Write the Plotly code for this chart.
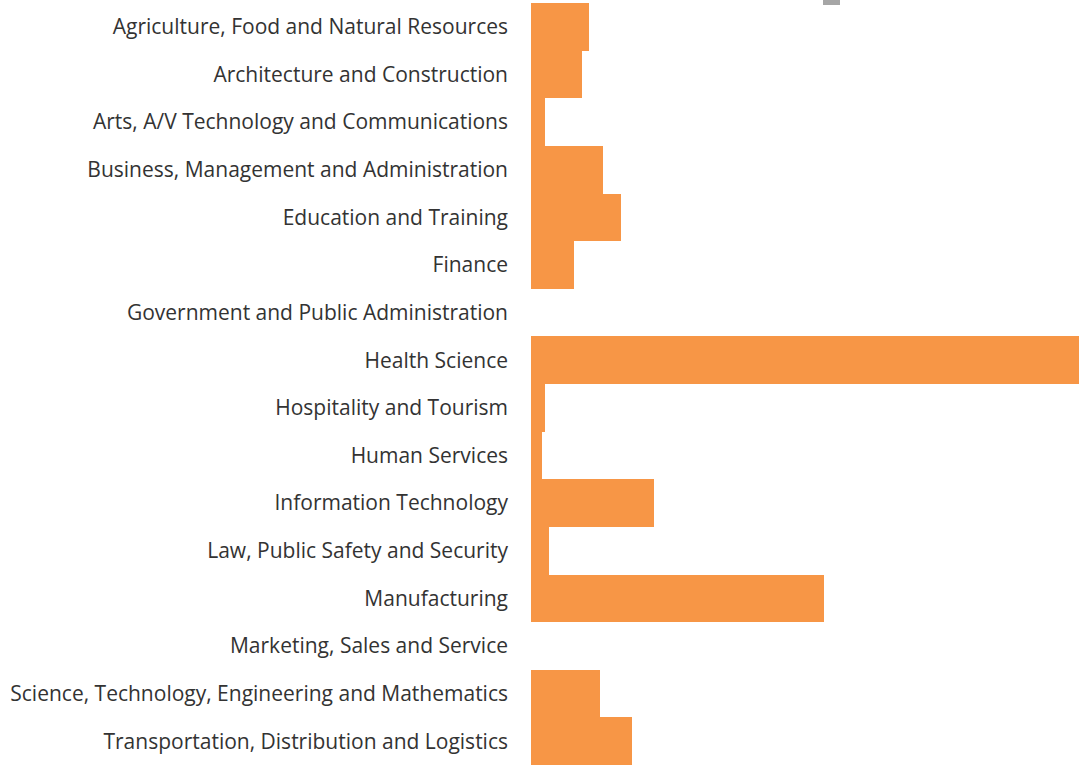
import plotly.graph_objects as go

categories = [
    "Agriculture, Food and Natural Resources",
    "Architecture and Construction",
    "Arts, A/V Technology and Communications",
    "Business, Management and Administration",
    "Education and Training",
    "Finance",
    "Government and Public Administration",
    "Health Science",
    "Hospitality and Tourism",
    "Human Services",
    "Information Technology",
    "Law, Public Safety and Security",
    "Manufacturing",
    "Marketing, Sales and Service",
    "Science, Technology, Engineering and Mathematics",
    "Transportation, Distribution and Logistics",
]
counts = [16, 14, 4, 20, 25, 12, 0, 175, 4, 3, 34, 5, 81, 0, 19, 28]

BAR_COLOR = "#F79646"

fig = go.Figure(
    go.Bar(
        y=categories,
        x=counts,
        orientation="h",
        marker=dict(color=BAR_COLOR, line=dict(width=0)),
        showlegend=False,
    )
)

fig.update_layout(
    width=1079,
    height=765,
    margin=dict(l=531, r=0, t=3, b=0),
    paper_bgcolor="white",
    plot_bgcolor="white",
    bargap=0,
    font=dict(family="Open Sans", size=21, color="#333333"),
    xaxis=dict(range=[0, 151.4], visible=False, fixedrange=True),
    yaxis=dict(
        autorange="reversed",
        showgrid=False,
        zeroline=False,
        showline=False,
        ticks="",
        ticklabelstandoff=22,
    ),
    # clipped grey marker peeking in at the top edge
    shapes=[
        dict(
            type="rect", xref="paper", yref="paper",
            x0=(823 - 531) / 548, x1=(840 - 531) / 548,
            y0=1 - 2 / 762, y1=1 + 3 / 762,
            fillcolor="#A6A6A6", line=dict(width=0), layer="above",
        )
    ],
)

# drop the browser's default body margin so the figure sits at the page corner
fig.write_html(
    "out.html",
    config={"displayModeBar": False},
    post_script="document.body.style.margin='0';",
)
